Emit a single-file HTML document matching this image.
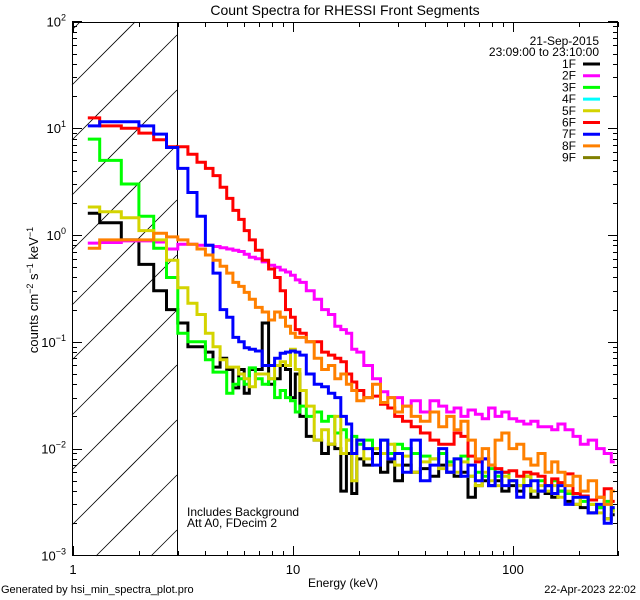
<!DOCTYPE html>
<html><head><meta charset="utf-8"><style>
html,body{margin:0;padding:0;background:#fff;width:640px;height:600px;overflow:hidden;}
svg{display:block;font-family:"Liberation Sans",sans-serif;}
</style></head><body>
<svg id="chart" width="640" height="600" viewBox="0 0 640 600" xmlns="http://www.w3.org/2000/svg">
<defs><clipPath id="plotclip"><rect x="72" y="22" width="546" height="534"/></clipPath></defs>
<rect x="0" y="0" width="640" height="600" fill="#fff"/>
<text x="345" y="15" font-size="14" text-anchor="middle">Count Spectra for RHESSI Front Segments</text>
<g id="hatch"></g>
<line x1="177.5" y1="22" x2="177.5" y2="556" stroke="#000" stroke-width="1"/>
<g id="series" clip-path="url(#plotclip)"></g>
<rect x="72.5" y="22.5" width="545" height="533" fill="none" stroke="#000" stroke-width="1"/>
<g id="axes"></g>
<text transform="translate(38,290) rotate(-90)" font-size="13" text-anchor="middle">counts cm<tspan dy="-5" font-size="9">−2</tspan><tspan dy="5"> s</tspan><tspan dy="-5" font-size="9">−1</tspan><tspan dy="5"> keV</tspan><tspan dy="-5" font-size="9">−1</tspan></text>
<text x="343" y="587" font-size="12" text-anchor="middle">Energy (keV)</text>
<text x="1" y="593" font-size="11">Generated by hsi_min_spectra_plot.pro</text>
<text x="636" y="593" font-size="11" text-anchor="end">22-Apr-2023 22:02</text>
<text x="187" y="516" font-size="12">Includes Background</text>
<text x="187" y="527" font-size="12">Att A0, FDecim 2</text>
<text x="599" y="45" font-size="12" text-anchor="end">21-Sep-2015</text>
<text x="599" y="56" font-size="12" text-anchor="end">23:09:00 to 23:10:00</text>
<g id="legend"></g>
</svg>
<script>
const NS="http://www.w3.org/2000/svg";
const energies=[1.167,1.5,1.833,2.167,2.5,2.833,3.167,3.5,3.833,4.167,4.5,4.833,5.167,5.5,5.833,6.167,6.5,7,7.5,8,8.5,9,9.5,10,10.5,11,12,13,14,15,16,17,18,19,20,22,24,26,28,30,33,36,40,44,48,52,56,60,65,70,75,80,86,92,100,108,116,125,135,145,155,165,180,195,210,230,250,270,290];
const seriesNames=["1F","2F","3F","4F","5F","6F","7F","8F","9F"];
const seriesColors=["#000000","#ff00ff","#00ff00","#00ffff","#d4d400","#ff0000","#0000ff","#ff8000","#808000"];
const s1F=[1.6,1.3,0.9,0.53,0.3,0.2,0.15,0.09,0.09,0.08,0.058,0.07,0.055,0.037,0.055,0.033,0.055,0.055,0.15,0.04,0.045,0.06,0.055,0.03,0.05,0.02,0.013,0.012,0.009,0.011,0.01,0.004,0.009,0.0038,0.008,0.007,0.009,0.006,0.0075,0.005,0.007,0.006,0.0065,0.0055,0.007,0.006,0.0055,0.006,0.0035,0.0045,0.005,0.0045,0.005,0.004,0.0045,0.004,0.0045,0.0035,0.004,0.0038,0.0035,0.004,0.0032,0.003,0.0028,0.0025,0.0028,0.0022,0.0024];
const s2F=[0.84,0.85,0.88,0.88,0.86,0.74,0.82,0.82,0.8,0.8,0.78,0.76,0.74,0.72,0.7,0.66,0.62,0.6,0.56,0.52,0.5,0.47,0.45,0.42,0.38,0.36,0.3,0.25,0.2,0.18,0.14,0.13,0.12,0.085,0.08,0.06,0.045,0.034,0.03,0.03,0.025,0.028,0.022,0.028,0.025,0.022,0.024,0.02,0.023,0.021,0.019,0.024,0.02,0.022,0.019,0.018,0.017,0.018,0.016,0.016,0.015,0.017,0.015,0.013,0.011,0.012,0.01,0.009,0.0075];
const s3F=[7.9,5,3,1.5,0.75,0.4,0.12,0.1,0.1,0.068,0.052,0.052,0.033,0.04,0.045,0.04,0.057,0.045,0.04,0.045,0.03,0.035,0.03,0.028,0.022,0.025,0.02,0.022,0.018,0.02,0.014,0.015,0.012,0.013,0.011,0.012,0.01,0.012,0.009,0.011,0.01,0.009,0.0085,0.008,0.009,0.0075,0.008,0.0085,0.0055,0.006,0.0055,0.0065,0.0055,0.006,0.005,0.0045,0.0055,0.004,0.005,0.0045,0.005,0.004,0.0038,0.0035,0.0032,0.003,0.0028,0.0032,0.0027];
const s4F=[];
const s5F=[1.83,1.65,1.45,1.1,0.9,0.58,0.32,0.23,0.18,0.12,0.09,0.068,0.058,0.058,0.05,0.045,0.038,0.05,0.05,0.045,0.06,0.065,0.06,0.085,0.055,0.035,0.025,0.012,0.015,0.011,0.02,0.009,0.012,0.005,0.012,0.008,0.01,0.009,0.011,0.007,0.0085,0.006,0.0075,0.008,0.0065,0.007,0.006,0.0075,0.0055,0.0045,0.006,0.005,0.0045,0.0055,0.005,0.0045,0.0055,0.004,0.0045,0.004,0.0045,0.0035,0.004,0.003,0.0035,0.003,0.0025,0.0022,0.0026];
const s6F=[12.5,10.5,10,9,7.8,6.7,6.7,5.7,4.8,4.2,3.6,2.8,2.2,1.7,1.4,1.1,0.9,0.72,0.58,0.48,0.4,0.3,0.2,0.17,0.13,0.12,0.1,0.1,0.08,0.075,0.07,0.065,0.05,0.042,0.035,0.03,0.031,0.026,0.024,0.02,0.018,0.016,0.014,0.012,0.011,0.011,0.014,0.013,0.0085,0.0075,0.008,0.007,0.0065,0.006,0.0062,0.0055,0.006,0.0058,0.0055,0.0045,0.0052,0.0048,0.0058,0.0038,0.0036,0.0033,0.0035,0.0042,0.0032];
const s7F=[10.5,11.5,11.5,10.5,8.8,6.6,4.2,2.5,1.5,0.8,0.44,0.2,0.17,0.11,0.1,0.088,0.085,0.082,0.06,0.06,0.07,0.078,0.08,0.082,0.08,0.075,0.05,0.04,0.038,0.033,0.03,0.02,0.017,0.009,0.012,0.01,0.007,0.012,0.008,0.009,0.006,0.012,0.005,0.007,0.01,0.006,0.008,0.0055,0.007,0.005,0.008,0.0045,0.006,0.0045,0.005,0.0035,0.0045,0.005,0.004,0.0045,0.0038,0.0045,0.003,0.0035,0.0035,0.0025,0.003,0.002,0.0028];
const s8F=[0.75,0.9,0.9,0.9,1.04,0.96,0.9,0.82,0.74,0.65,0.58,0.51,0.44,0.36,0.33,0.29,0.25,0.21,0.19,0.16,0.19,0.17,0.14,0.12,0.11,0.11,0.1,0.07,0.055,0.06,0.045,0.05,0.04,0.035,0.028,0.03,0.04,0.027,0.03,0.022,0.025,0.02,0.018,0.022,0.016,0.02,0.015,0.018,0.012,0.008,0.01,0.007,0.012,0.014,0.01,0.011,0.008,0.007,0.009,0.006,0.0075,0.006,0.0045,0.0055,0.004,0.005,0.0035,0.003,0.004];
const s9F=[];
const seriesData=[s1F,s2F,s3F,s4F,s5F,s6F,s7F,s8F,s9F];
const xTickLabels=["1","10","100"];
const xTickValues=[1,10,100];
const yTickExps=[-3,-2,-1,0,1,2];

const X0=73,XD=220,Y0=235,YD=106.8;
function xs(v){return X0+XD*Math.log10(v);}
function ys(v){return Y0-YD*Math.log10(v);}
function mk(tag,attrs,parent){const e=document.createElementNS(NS,tag);for(const k in attrs)e.setAttribute(k,attrs[k]);parent.appendChild(e);return e;}

// hatch: lines y = c - (x-72), clipped to x in [72,177], y in [22,556]
const hatch=document.getElementById('hatch');
const HX0=72,HX1=177,HY0=22,HY1=556;
for(let c=30;c<700;c+=55){
  let xa=Math.max(HX0, HX0+(c-HY1));
  let xb=Math.min(HX1, HX0+(c-HY0));
  if(xb<=xa)continue;
  const l=mk('line',{x1:xa,y1:c-(xa-HX0),x2:xb,y2:c-(xb-HX0),stroke:'#000','stroke-width':0.8},hatch);
  
  
}

const axes=document.getElementById('axes');
for(const e of yTickExps){
  for(let m=1;m<=9;m++){
    const v=m*Math.pow(10,e);
    if(e===2&&m>1)break;
    const y=Math.round(ys(v))+0.5;
    const len=m===1?10:5;
    const t1=mk('line',{x1:72,y1:y,x2:72+len,y2:y,stroke:'#000','stroke-width':1},axes);
    
    
    const t2=mk('line',{x1:618-len,y1:y,x2:618,y2:y,stroke:'#000','stroke-width':1},axes);
    
    
  }
  const lab=mk('text',{x:66,y:ys(Math.pow(10,e))+5,'font-size':13,'text-anchor':'end'},axes);
  
  
  lab.innerHTML='10<tspan dy="-6" font-size="9">'+(e<0?'−'+(-e):e)+'</tspan>';
}
for(let d=0;d<3;d++){
  for(let m=1;m<=9;m++){
    const v=m*Math.pow(10,d);
    if(v>300)break;
    const x=Math.round(xs(v))+0.5;
    const len=m===1?10:5;
    const b=mk('line',{x1:x,y1:556,x2:x,y2:556-len,stroke:'#000','stroke-width':1},axes);
    
    
    const t=mk('line',{x1:x,y1:22,x2:x,y2:22+len,stroke:'#000','stroke-width':1},axes);
    
    
  }
}
xTickValues.forEach((v,i)=>{
  const t=mk('text',{x:xs(v),y:574,'font-size':13,'text-anchor':'middle'},axes);
  
  
  t.textContent=xTickLabels[i];
});

const sg=document.getElementById('series');
seriesData.forEach((vals,si)=>{
  if(!vals.length)return;
  const px=energies.slice(0,vals.length).map(xs);
  let d='';
  for(let i=0;i<vals.length;i++){
    const y=ys(vals[i]).toFixed(1);
    const xl=i===0?px[0]:(px[i-1]+px[i])/2;
    const xr=i===vals.length-1?px[i]:(px[i]+px[i+1])/2;
    d+=(i===0?'M':'L')+xl.toFixed(1)+','+y+'L'+xr.toFixed(1)+','+y;
  }
  const p=mk('path',{d:d,fill:'none',stroke:seriesColors[si],'stroke-width':3,'stroke-linejoin':'miter'},sg);
  
  
});

const lg=document.getElementById('legend');
seriesNames.forEach((n,i)=>{
  const y=64+i*11.7;
  const t=mk('text',{x:576,y:y+4,'font-size':12,'text-anchor':'end'},lg);
  
  
  t.textContent=n;
  const l=mk('line',{x1:583,y1:y,x2:600,y2:y,stroke:seriesColors[i],'stroke-width':3},lg);
  
  
});
</script>
</body></html>
